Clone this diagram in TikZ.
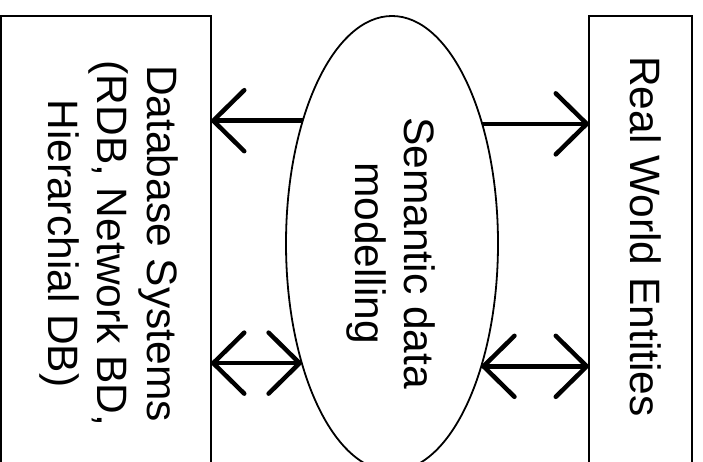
\documentclass[tikz,border=0pt]{standalone}
\usepackage{fontspec}
\setmainfont{Liberation Sans}
\usetikzlibrary{shapes.geometric,arrows.meta}
\tikzset{
  boxnode/.style={draw=black, line width=1.6pt, rectangle, inner sep=0pt, outer sep=0pt, minimum height=459pt},
  ellnode/.style={draw=black, line width=1.8pt, ellipse, inner sep=0pt, outer sep=0pt, minimum width=212pt, minimum height=455pt},
  txt/.style={rotate=-90, align=center, inner sep=0pt, font=\fontsize{42.5}{49.5}\selectfont},
  barb/.tip={Straight Barb[length=31pt, width=61pt, line cap=round, line join=round]},
  onearrow/.style={line width=4.5pt, -barb},
  twoarrow/.style={line width=4.5pt, barb-barb}
}
\begin{document}
\begin{tikzpicture}[x=1pt,y=1pt]
\useasboundingbox (0,0) rectangle (703,461);
\clip (0,0) rectangle (703,461);
\node[boxnode, minimum width=210pt] (db) at (106,215.5) {};
\node[boxnode, minimum width=103pt] (rw) at (640.5,215.5) {};
\node[ellnode] (ell) at (392,217.5) {};
\node[txt] (dbt) at (108.5,217.5) {Database Systems\\(RDB, Network BD,\\Hierarchial DB)};
\node[txt] (ellt) at (391,208) {Semantic data\\modelling};
\node[txt] (rwt) at (646,224.5) {Real World Entities};
\draw[onearrow] (ell.126.72) -- (ell.126.72 -| db.east);
\draw[onearrow] (ell.53.28) -- (ell.53.28 -| rw.west);
\draw[twoarrow] (ell.233.28) -- (ell.233.28 -| db.east);
\draw[twoarrow] (ell.306.72) -- (ell.306.72 -| rw.west);
\end{tikzpicture}
\end{document}
